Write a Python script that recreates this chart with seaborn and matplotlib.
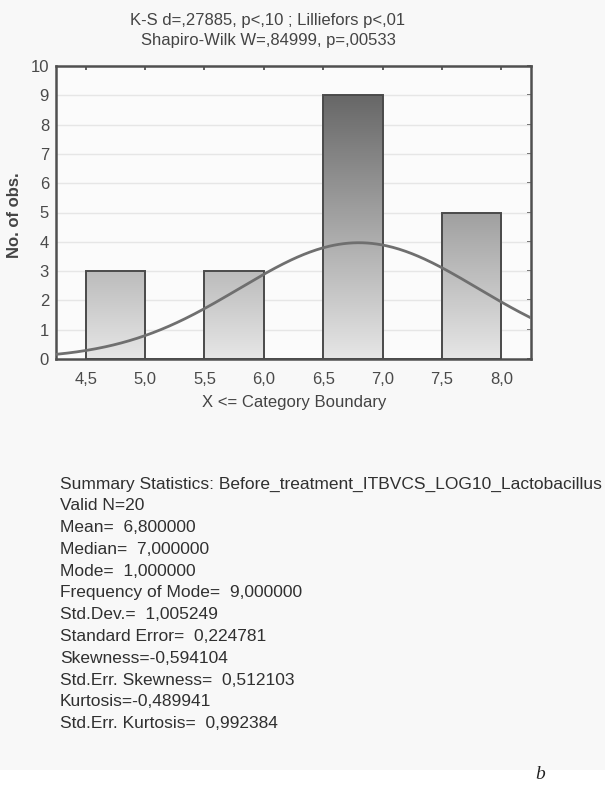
import numpy as np
import pandas as pd
import matplotlib
matplotlib.use("Agg")
import matplotlib.pyplot as plt
from matplotlib.colors import LinearSegmentedColormap
from matplotlib.patches import Rectangle
import seaborn as sns

# Histogram of LOG10 Lactobacillus counts before treatment
bin_edges = [4.5, 5.0, 5.5, 6.0, 6.5, 7.0, 7.5, 8.0]
bin_centers = [4.75, 5.75, 6.75, 7.75]
counts = [3, 3, 9, 5]
x_ticks = [4.5, 5.0, 5.5, 6.0, 6.5, 7.0, 7.5, 8.0]
x_tick_labels = ["4,5", "5,0", "5,5", "6,0", "6,5", "7,0", "7,5", "8,0"]
y_ticks = [0, 1, 2, 3, 4, 5, 6, 7, 8, 9, 10]

# Summary statistics
n_valid = 20
mean_val = 6.8
sd_val = 1.005249
bin_width = 0.5

title_lines = ["K-S d=,27885, p<,10 ; Lilliefors p<,01",
               "Shapiro-Wilk W=,84999, p=,00533"]
summary_lines = [
    "Summary Statistics: Before_treatment_ITBVCS_LOG10_Lactobacillus",
    "Valid N=20",
    "Mean=  6,800000",
    "Median=  7,000000",
    "Mode=  1,000000",
    "Frequency of Mode=  9,000000",
    "Std.Dev.=  1,005249",
    "Standard Error=  0,224781",
    "Skewness=-0,594104",
    "Std.Err. Skewness=  0,512103",
    "Kurtosis=-0,489941",
    "Std.Err. Kurtosis=  0,992384",
]

sns.set_theme(style="white")
plt.rcParams["font.family"] = ["Liberation Sans", "DejaVu Sans"]

W, H = 605, 788
fig = plt.figure(figsize=(W / 100, H / 100), dpi=100, facecolor="#f8f8f8")


def fx(px):
    return px / W


def fy(py):
    return 1 - py / H


# white strip at the bottom of the page
fig.patches.append(Rectangle((0, 0), 1, fy(770), transform=fig.transFigure,
                             facecolor="white", edgecolor="none", zorder=0))

ax = fig.add_axes([fx(56), fy(359), fx(531) - fx(56), fy(66) - fy(359)])
ax.set_facecolor("#fbfbfb")

hist_df = pd.DataFrame({"x": bin_centers, "n": counts})
sns.histplot(data=hist_df, x="x", weights="n", bins=bin_edges, ax=ax,
             stat="count", element="bars", fill=True,
             facecolor="none", edgecolor="#4a4a4a", linewidth=1.4, zorder=3)

# vertical gray gradient inside each bar
grad_cmap = LinearSegmentedColormap.from_list("bar_grad", ["#e6e6e6", "#676767"])
ymax_grad = max(counts)
grad = np.linspace(0, 1, 256).reshape(-1, 1)
for p in ax.patches:
    h = p.get_height()
    if h <= 0:
        continue
    x0 = p.get_x()
    x1 = x0 + p.get_width()
    im = ax.imshow(grad, cmap=grad_cmap, origin="lower", aspect="auto",
                   extent=[x0, x1, 0, ymax_grad], zorder=2, vmin=0, vmax=1,
                   interpolation="bilinear")
    im.set_clip_path(p)

# fitted normal curve
xs = np.linspace(4.25, 8.25, 300)
ys = n_valid * bin_width * np.exp(-0.5 * ((xs - mean_val) / sd_val) ** 2) / (sd_val * np.sqrt(2 * np.pi))
sns.lineplot(x=xs, y=ys, ax=ax, color="#6f6f6f", linewidth=2.0, zorder=4)

ax.set_xlim(4.25, 8.25)
ax.set_ylim(0, 10)
ax.set_xticks(x_ticks)
ax.set_xticklabels(x_tick_labels)
ax.set_yticks(y_ticks)
ax.set_yticklabels([str(v) for v in y_ticks])
for v in y_ticks[1:-1]:
    ax.axhline(v, color="#e6e6e6", linewidth=1.0, zorder=1)

ax.tick_params(axis="both", which="both", direction="in", length=3, width=1.2,
               color="#444444", labelcolor="#4a4a4a", labelsize=12,
               top=True, right=True, bottom=True, left=False)
ax.tick_params(axis="x", pad=9)
ax.tick_params(axis="y", pad=5)
for s in ax.spines.values():
    s.set_color("#505050")
    s.set_linewidth(1.8)
    s.set_visible(True)

ax.set_xlabel("")
ax.set_ylabel("")

fig.text(fx(294), fy(402), "X <= Category Boundary", ha="center", va="center",
         fontsize=12, color="#444444")
fig.text(fx(15), fy(215), "No. of obs.", ha="center", va="center", rotation=90,
         fontsize=12, fontweight="bold", color="#444444")

fig.text(fx(268), fy(21), title_lines[0], ha="center", va="center",
         fontsize=12, color="#444444")
fig.text(fx(268), fy(41), title_lines[1], ha="center", va="center",
         fontsize=12, color="#444444")

y0, dy = 484, 21.8
for i, line in enumerate(summary_lines):
    fig.text(fx(60), fy(y0 + i * dy), line, ha="left", va="center",
             fontsize=12.5, color="#303030")

fig.text(fx(535), fy(766), "b", ha="left", va="top", fontsize=14,
         style="italic", family=["Liberation Serif", "DejaVu Serif"], color="#222222")

fig.savefig("out.png", dpi=100, facecolor=fig.get_facecolor())
